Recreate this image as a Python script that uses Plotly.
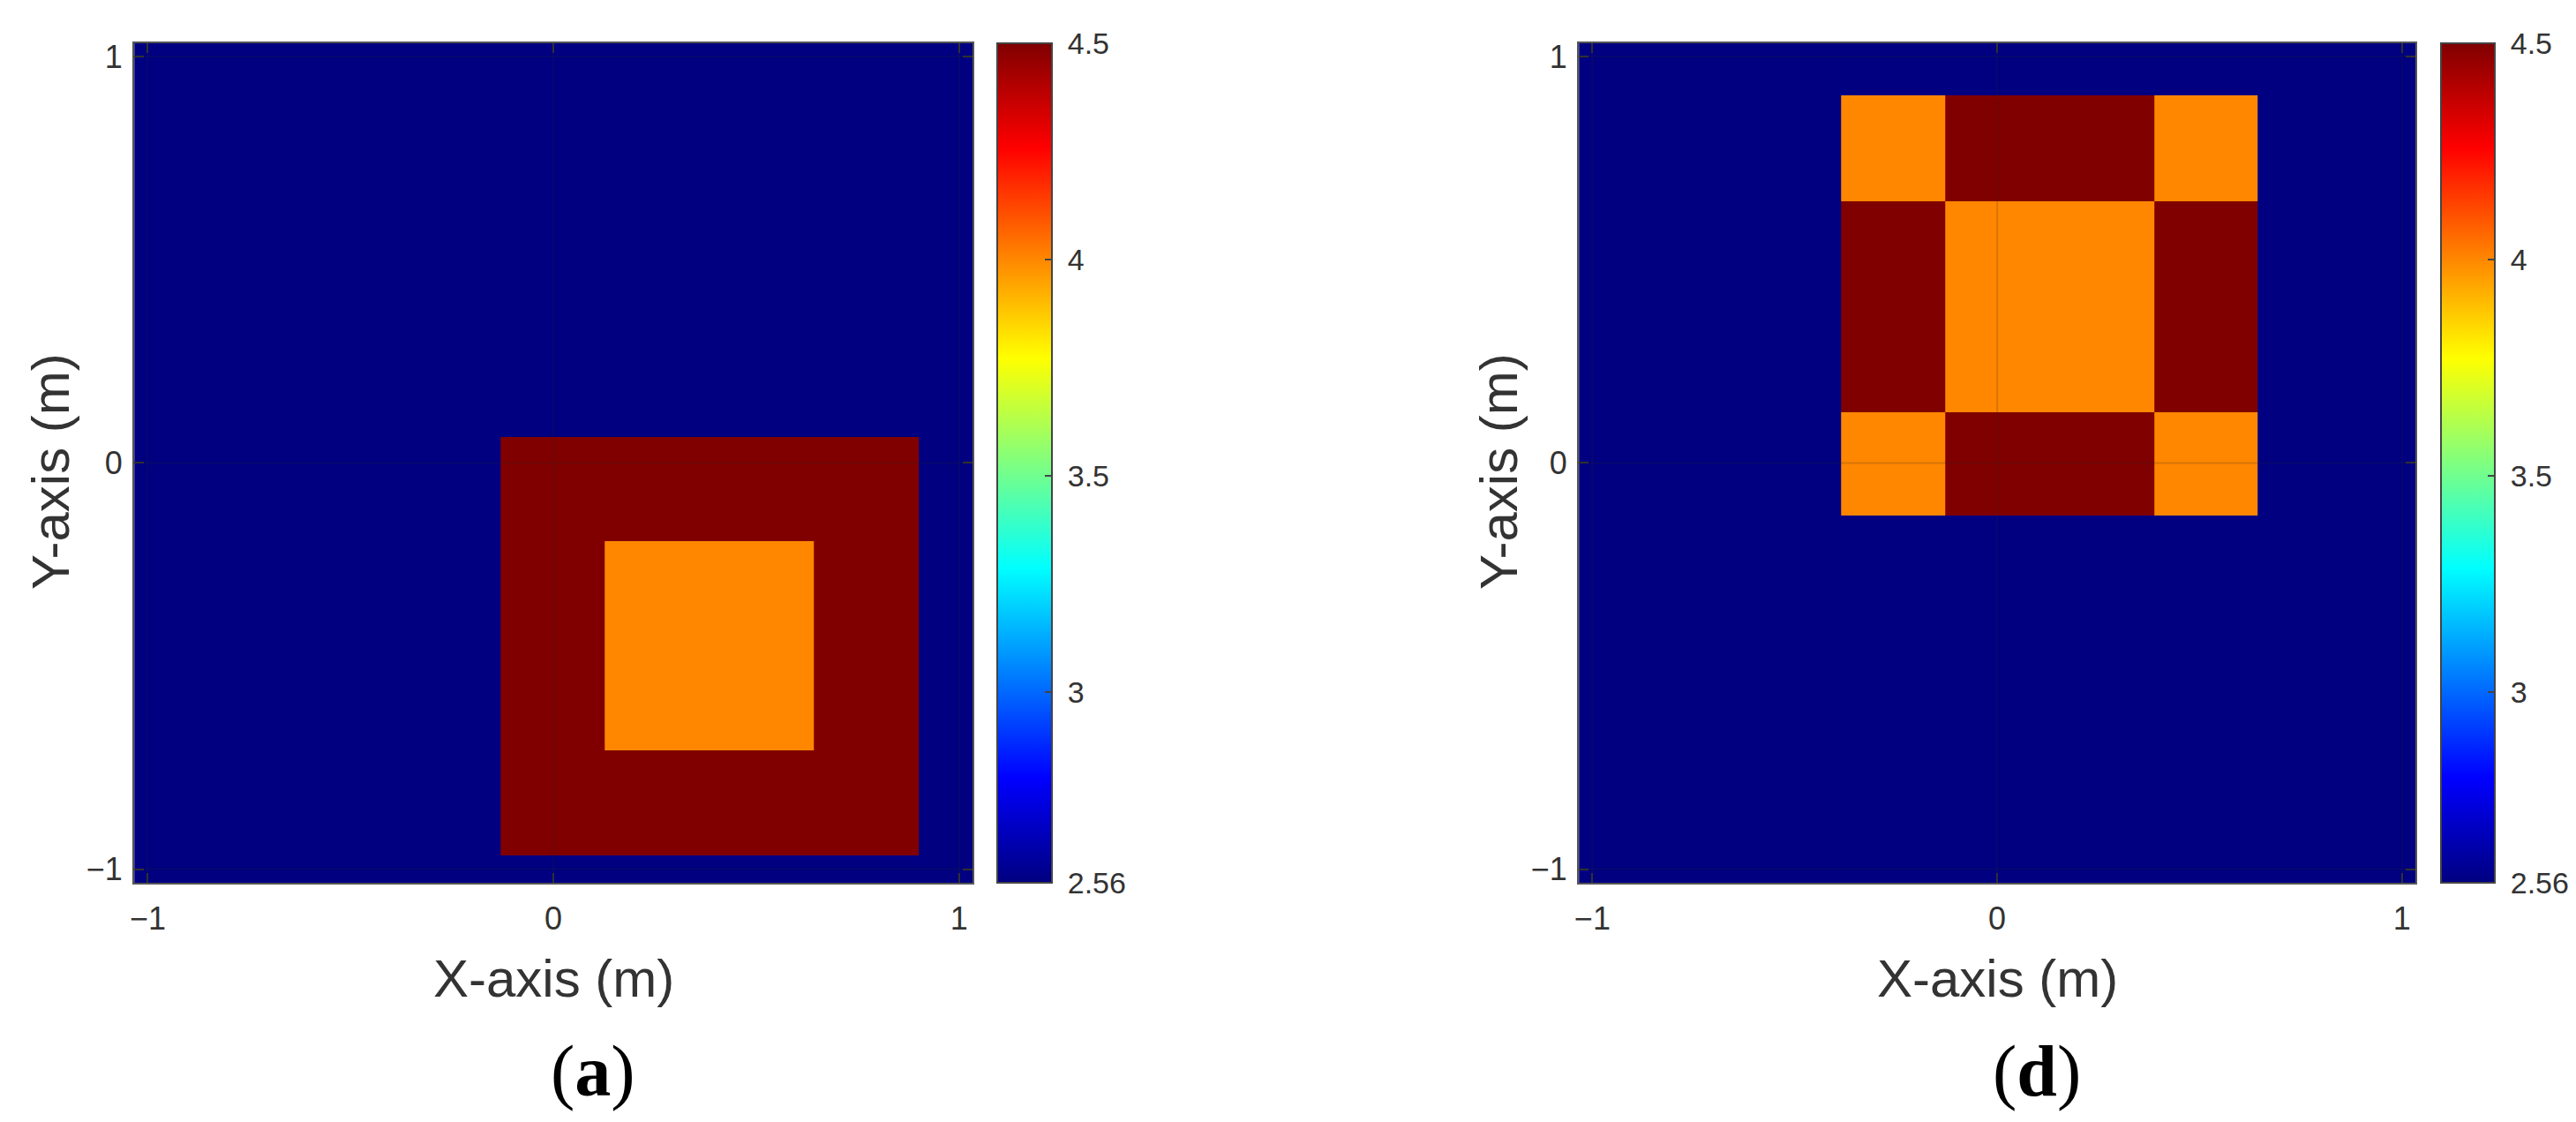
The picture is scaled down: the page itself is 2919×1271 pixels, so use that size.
import plotly.graph_objects as go

W, H = 2919, 1271
OFF_X, OFF_Y = 8, 8  # page offset of the figure div (default body margin)
WF, HF = W, H

# ---- data ----
# panel (a): cell edges and permittivity values
x_edges_a = [-1.033, -0.13, 0.126, 0.643, 0.90, 1.033]
y_edges_a = [-1.033, -0.967, -0.707, -0.192, 0.064, 1.033]
z_a = [
    [2.56, 2.56, 2.56, 2.56, 2.56],
    [2.56, 4.5, 4.5, 4.5, 2.56],
    [2.56, 4.5, 4.0, 4.5, 2.56],
    [2.56, 4.5, 4.5, 4.5, 2.56],
    [2.56, 2.56, 2.56, 2.56, 2.56],
]
# panel (d)
x_edges_d = [-1.033, -0.385, -0.128, 0.388, 0.644, 1.033]
y_edges_d = [-1.033, -0.129, 0.125, 0.643, 0.905, 1.033]
z_d = [
    [2.56, 2.56, 2.56, 2.56, 2.56],
    [2.56, 4.0, 4.5, 4.0, 2.56],
    [2.56, 4.5, 4.0, 4.5, 2.56],
    [2.56, 4.0, 4.5, 4.0, 2.56],
    [2.56, 2.56, 2.56, 2.56, 2.56],
]
axis_ticks = [-1, 0, 1]
axis_ticktext = ["\u22121", "0", "1"]
cbar_ticks = [2.56, 3, 3.5, 4, 4.5]
cbar_ticktext = ["2.56", "3", "3.5", "4", "4.5"]
zmin, zmax = 2.56, 4.5
axis_range = [-1.0335, 1.033]
panel_labels = ["a", "d"]
x_title = "X-axis (m)"
y_title = "Y-axis (m)"

# MATLAB jet colormap
jet = [
    [0.0, "rgb(0,0,128)"],
    [0.125, "rgb(0,0,255)"],
    [0.375, "rgb(0,255,255)"],
    [0.625, "rgb(255,255,0)"],
    [0.875, "rgb(255,0,0)"],
    [1.0, "rgb(128,0,0)"],
]

# ---- layout geometry (page pixels) ----
plot_top, plot_bot = 49, 1000
panels = [
    dict(x0=152, x1=1102, cb0=1130, cb1=1192, ylab_x=57),
    dict(x0=1789, x1=2737, cb0=2766, cb1=2827, ylab_x=1698),
]

def px(x):
    return (x - OFF_X) / WF

def py(y):
    return 1 - (y - OFF_Y) / HF

fig = go.Figure()
data = [(x_edges_a, y_edges_a, z_a), (x_edges_d, y_edges_d, z_d)]
TXT = "#333333"
FONT = "Liberation Sans, Arial, sans-serif"
NBSP = "\u00a0"

for i, (p, (xe, ye, z)) in enumerate(zip(panels, data)):
    sfx = "" if i == 0 else str(i + 1)
    fig.add_trace(go.Heatmap(
        x=xe, y=ye, z=z, zmin=zmin, zmax=zmax, colorscale=jet,
        zsmooth=False, hoverinfo="skip", xaxis="x" + sfx, yaxis="y" + sfx,
        colorbar=dict(
            x=px(p["cb0"]), xanchor="left", xpad=0, ypad=0,
            y=py(plot_top), yanchor="top",
            len=(plot_bot - plot_top) / HF, lenmode="fraction",
            thickness=p["cb1"] - p["cb0"], thicknessmode="pixels",
            outlinecolor="#444444", outlinewidth=2,
            ticks="inside", ticklen=9, tickwidth=2, tickcolor="#444444",
            tickvals=cbar_ticks, ticktext=[NBSP + t for t in cbar_ticktext],
            tickfont=dict(family=FONT, size=34, color=TXT),
        ),
    ))
    axcommon = dict(
        range=axis_range, tickvals=axis_ticks, ticktext=axis_ticktext,
        ticks="inside", ticklen=11, tickwidth=2, tickcolor="#333333",
        showline=True, linecolor="#555555", linewidth=2, mirror="ticks",
        showgrid=False, zeroline=False, automargin=False,
        tickfont=dict(family=FONT, size=36, color=TXT),
    )
    fig.update_layout(**{
        "xaxis" + sfx: dict(axcommon, domain=[px(p["x0"]), px(p["x1"])], anchor="y" + sfx,
                            ticklabelstandoff=8),
        "yaxis" + sfx: dict(axcommon, domain=[py(plot_bot), py(plot_top)], anchor="x" + sfx,
                            ticklabelstandoff=4),
    })
    # faint grid lines above the image (MATLAB style)
    for v in axis_ticks:
        fig.add_shape(type="line", xref="x" + sfx, yref="y" + sfx,
                      x0=v, x1=v, y0=axis_range[0], y1=axis_range[1],
                      line=dict(color="rgba(38,38,38,0.18)", width=2), layer="above")
        fig.add_shape(type="line", xref="x" + sfx, yref="y" + sfx,
                      x0=axis_range[0], x1=axis_range[1], y0=v, y1=v,
                      line=dict(color="rgba(38,38,38,0.18)", width=2), layer="above")
    xc = (p["x0"] + p["x1"]) / 2
    fig.add_annotation(text=x_title, xref="paper", yref="paper",
                       x=px(xc), y=py(1108), xanchor="center", yanchor="middle",
                       showarrow=False, font=dict(family=FONT, size=60, color=TXT))
    fig.add_annotation(text=y_title, xref="paper", yref="paper", textangle=-90,
                       x=px(p["ylab_x"]), y=py(534), xanchor="center", yanchor="middle",
                       showarrow=False, font=dict(family=FONT, size=60, color=TXT))
    fc = (p["x0"] + p["cb1"]) / 2
    fig.add_annotation(text="(<b>%s</b>)" % panel_labels[i], xref="paper", yref="paper",
                       x=px(fc), y=py(1213), xanchor="center", yanchor="middle",
                       showarrow=False,
                       font=dict(family="Liberation Serif, Times New Roman, serif", size=82, color="#000000"))

fig.update_layout(
    width=WF, height=HF, margin=dict(l=0, r=0, t=0, b=0, pad=0),
    paper_bgcolor="white", plot_bgcolor="white", showlegend=False,
)
fig.write_html("out.html")
